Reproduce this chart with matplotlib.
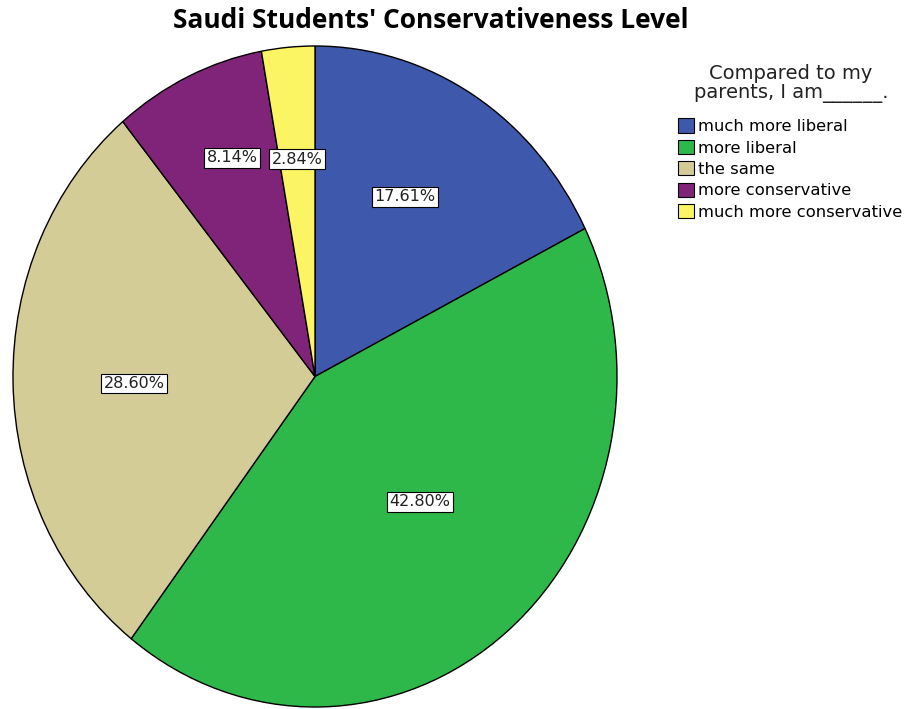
import matplotlib
matplotlib.use("Agg")
import matplotlib.pyplot as plt
import numpy as np
from matplotlib.patches import Patch

categories = ["much more liberal", "more liberal", "the same",
              "more conservative", "much more conservative"]
percentages = [17.61, 42.80, 28.60, 8.14, 2.84]
colors = ["#3e58ac", "#2eb84a", "#d3cc96", "#7f2479", "#fbf564"]
# label placement: radius and small angular nudge (degrees) per slice
label_radius = [0.62, 0.515, 0.60, 0.716, 0.66]
label_nudge = [3.0, 3.0, 1.0, -2.3, 0.0]

W, H = 910, 709
fig = plt.figure(figsize=(W / 100, H / 100), dpi=100)
fig.patch.set_facecolor("white")

# pie occupies an ellipse (slightly taller than wide)
left_px, right_px, top_px, bottom_px = 13, 617, 46, 707
ax = fig.add_axes([left_px / W, 1 - bottom_px / H,
                   (right_px - left_px) / W, (bottom_px - top_px) / H])

wedges, _ = ax.pie(percentages, colors=colors, startangle=90,
                   counterclock=False, normalize=True,
                   wedgeprops=dict(edgecolor="black", linewidth=1.0))
ax.set_aspect("auto")
ax.set_xlim(-1, 1)
ax.set_ylim(-1, 1)
ax.axis("off")

for w, pct, r, d in zip(wedges, percentages, label_radius, label_nudge):
    mid = np.deg2rad((w.theta1 + w.theta2) / 2 + d)
    ax.text(r * np.cos(mid), r * np.sin(mid), f"{pct:.2f}%",
            ha="center", va="center", fontsize=11.5, color="#222222",
            bbox=dict(boxstyle="square,pad=0.15", facecolor="white",
                      edgecolor="black", linewidth=0.8))

fig.text(0.473, 0.971, "Saudi Students' Conservativeness Level",
         ha="center", va="center", fontsize=19, fontweight="bold",
         family="Open Sans")

fig.text(0.869, 0.882, "Compared to my\nparents, I am______.",
         ha="center", va="center", fontsize=14, linespacing=1.0,
         color="#222222")

handles = [Patch(facecolor=c, edgecolor="black", linewidth=0.8) for c in colors]
leg = fig.legend(handles, categories, loc="upper left",
                 bbox_to_anchor=(0.745, 0.833), frameon=False,
                 fontsize=11.8, handlelength=0.95, handleheight=0.95,
                 handletextpad=0.3, labelspacing=0.35, borderpad=0,
                 borderaxespad=0)

fig.savefig("out.png", dpi=100, facecolor="white")
